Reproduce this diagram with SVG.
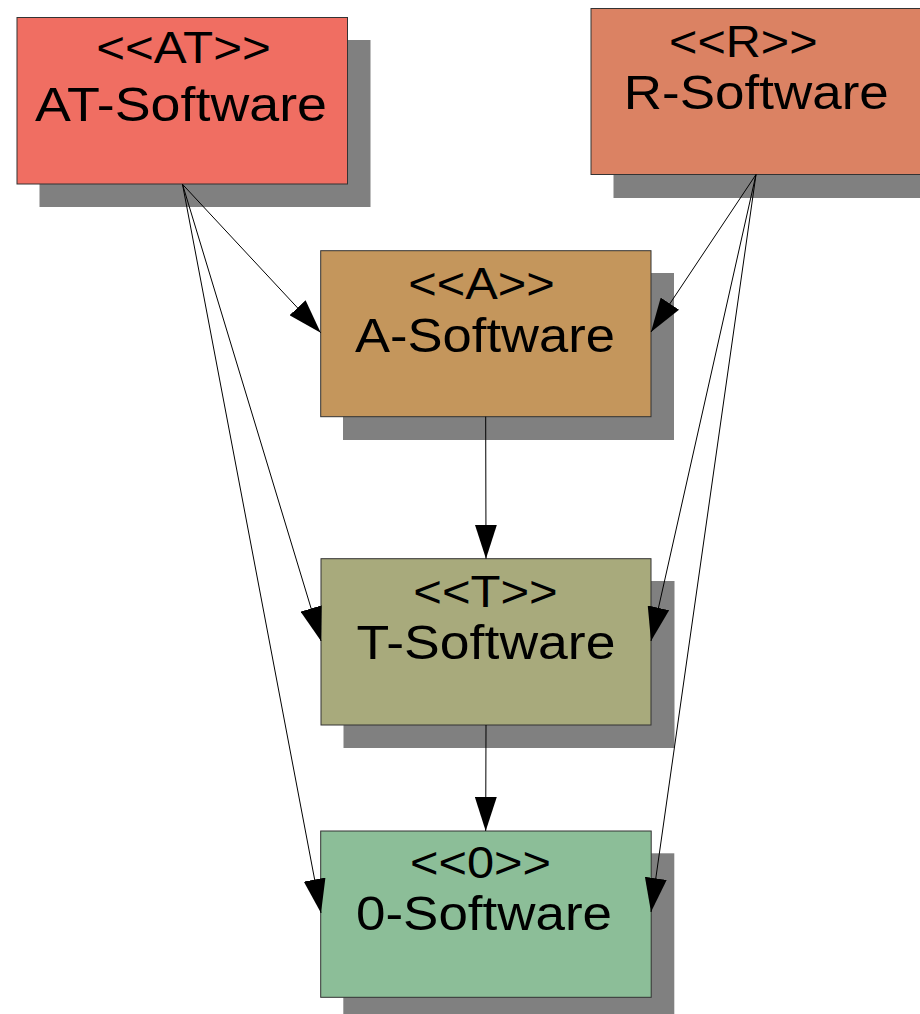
<svg xmlns="http://www.w3.org/2000/svg" width="920" height="1014" viewBox="0 0 920 1014">
<style>
.shadow{fill:#808080;stroke:none}
.box{stroke:#333333;stroke-width:1}
.st{font-family:"Liberation Sans",Arial,sans-serif;font-size:44px;fill:#000;text-anchor:middle}
.nm{font-family:"Liberation Sans",Arial,sans-serif;font-size:49px;fill:#000;text-anchor:middle}
.edge{stroke:#000;stroke-width:1;fill:none;marker-end:url(#arr)}
</style>
<defs>
<marker id="arr" markerUnits="userSpaceOnUse" markerWidth="34" markerHeight="22" refX="34" refY="11" orient="auto" viewBox="0 0 34 22">
<path d="M0,0 L34,11 L0,22 Z" fill="#000"/>
</marker>
</defs>
<rect width="920" height="1014" fill="#fff"/>
<g id="node-AT">
<rect class="shadow" x="39.5" y="40" width="331" height="167"/>
<rect class="box" x="17" y="17.5" width="330.5" height="166.5" fill="#f06e62"/>
<text class="st" x="183.5" y="63.3" textLength="174.5" lengthAdjust="spacingAndGlyphs">&lt;&lt;AT&gt;&gt;</text>
<text class="nm" x="181" y="120.5" textLength="292" lengthAdjust="spacingAndGlyphs">AT-Software</text>
</g>
<g id="node-R">
<rect class="shadow" x="613.5" y="31" width="331" height="167"/>
<rect class="box" x="591" y="8.5" width="330.5" height="166" fill="#db8263"/>
<text class="st" x="743.3" y="56.7" textLength="148.5" lengthAdjust="spacingAndGlyphs">&lt;&lt;R&gt;&gt;</text>
<text class="nm" x="756.3" y="109" textLength="265" lengthAdjust="spacingAndGlyphs">R-Software</text>
</g>
<g id="node-A">
<rect class="shadow" x="343" y="273" width="331" height="167"/>
<rect class="box" x="320.7" y="250.7" width="330.3" height="166" fill="#c4965c"/>
<text class="st" x="481.5" y="299" textLength="146.5" lengthAdjust="spacingAndGlyphs">&lt;&lt;A&gt;&gt;</text>
<text class="nm" x="485" y="351.5" textLength="260" lengthAdjust="spacingAndGlyphs">A-Software</text>
</g>
<g id="node-T">
<rect class="shadow" x="343.5" y="581" width="331" height="167"/>
<rect class="box" x="321" y="558.7" width="330" height="166.3" fill="#a8aa7c"/>
<text class="st" x="485.5" y="606.7" textLength="144.5" lengthAdjust="spacingAndGlyphs">&lt;&lt;T&gt;&gt;</text>
<text class="nm" x="486" y="659" textLength="259" lengthAdjust="spacingAndGlyphs">T-Software</text>
</g>
<g id="node-0">
<rect class="shadow" x="343.3" y="853.3" width="331" height="167"/>
<rect class="box" x="320.7" y="831" width="330.5" height="166.3" fill="#8cbe98"/>
<text class="st" x="480.5" y="878.3" textLength="141" lengthAdjust="spacingAndGlyphs">&lt;&lt;0&gt;&gt;</text>
<text class="nm" x="484" y="930" textLength="256" lengthAdjust="spacingAndGlyphs">0-Software</text>
</g>
<g id="connectors">
<line class="edge" x1="182.5" y1="184.3" x2="320.7" y2="332.7"/>
<line class="edge" x1="182.5" y1="184.3" x2="321" y2="641"/>
<line class="edge" x1="182.5" y1="184.3" x2="321" y2="913"/>
<line class="edge" x1="756" y1="174.5" x2="651" y2="332"/>
<line class="edge" x1="756" y1="174.5" x2="651" y2="641"/>
<line class="edge" x1="756" y1="174.5" x2="651" y2="912"/>
<line class="edge" x1="485.7" y1="416.7" x2="486" y2="558.7"/>
<line class="edge" x1="486" y1="725" x2="485.7" y2="831"/>
</g>
</svg>
